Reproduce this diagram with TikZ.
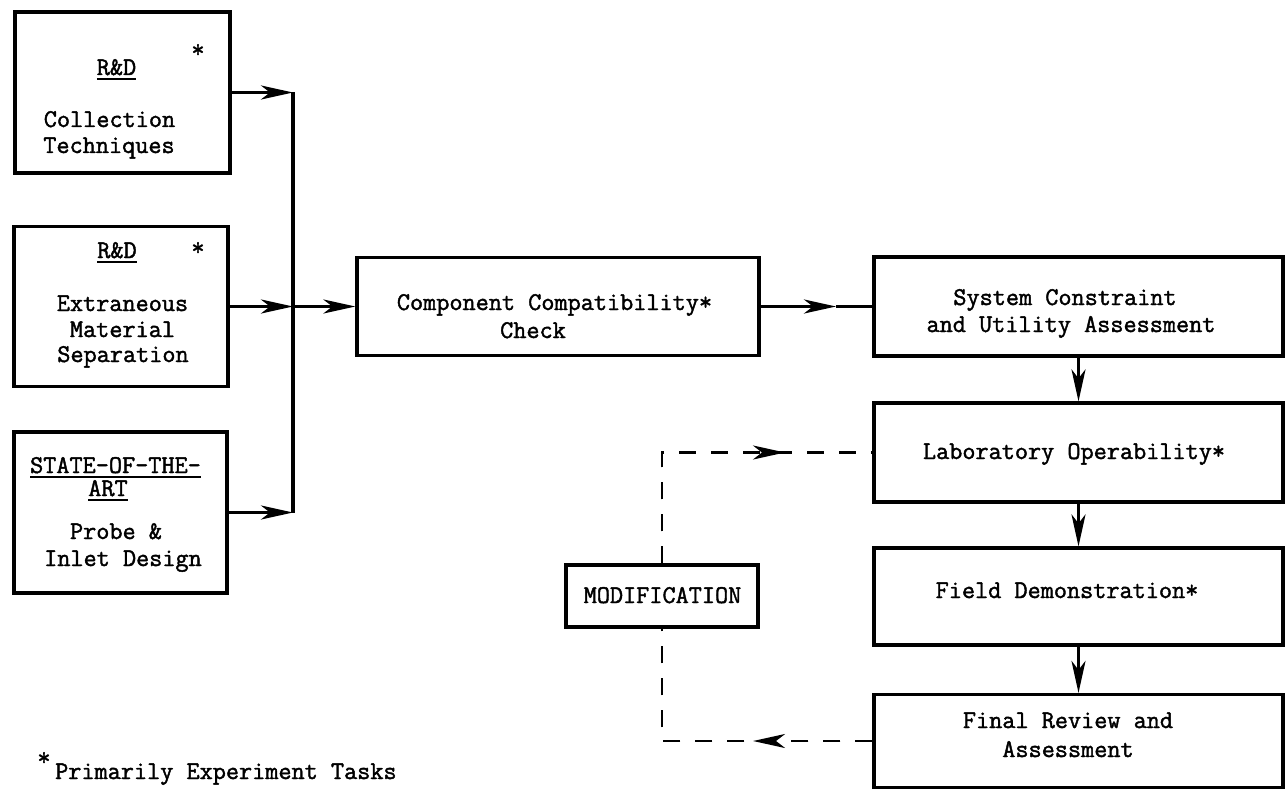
\documentclass[tikz,border=0pt]{standalone}
\usepackage{fontspec}
\usetikzlibrary{arrows.meta}
\newfontfamily\twfont{Latin Modern Mono}[FakeBold=1.6]
\newcommand\myul[1]{\vtop{\hbox{#1}\kern 2.5pt\hrule height 2.4pt}}
\begin{document}
\begin{tikzpicture}[x=1pt,y=-1pt,
  box/.style={draw, line width=3.2pt, inner sep=0, rectangle},
  txt/.style={font=\twfont\fontsize{25.5}{28}\selectfont, inner sep=0, anchor=base},
  startxt/.style={font=\twfont\fontsize{25.5}{28}\selectfont, inner sep=0, anchor=north},
  tip/.style={-{Stealth[length=32pt,width=14pt,inset=9pt]}},
  conn/.style={line width=3.2pt},
  dconn/.style={line width=2.8pt, dash pattern=on 17pt off 15pt}]
\path[use as bounding box] (0,0) rectangle (1287,797);

% left boxes
\node[box, minimum width=215pt, minimum height=161pt] (b1) at (122.5,92.5) {};
\node[box, minimum width=214pt, minimum height=160pt] (b2) at (121,306.5) {};
\node[box, minimum width=213pt, minimum height=161pt] (b3) at (120.5,512.5) {};

% middle / right boxes
\node[box, minimum width=402pt, minimum height=98pt] (comp) at (558,306.5) {};
\node[box, minimum width=409pt, minimum height=99pt] (sys) at (1078.5,306.5) {};
\node[box, minimum width=409pt, minimum height=99pt] (lab) at (1078.5,452.5) {};
\node[box, minimum width=409pt, minimum height=97pt] (field) at (1078.5,596.5) {};
\node[box, minimum width=409pt, minimum height=93pt] (final) at (1078.5,741) {};
\node[box, minimum width=192pt, minimum height=62pt] (mod) at (662,596) {};

% texts box 1
\node[txt] (t1a) at (116.5,75) {\myul{R\&D}};
\node[startxt] (s1) at (198,44) {*};
\node[txt] (t1b) at (109.5,127) {Collection};
\node[txt] (t1c) at (109,153) {Techniques};
% texts box 2
\node[txt] (t2a) at (117,258) {\myul{R\&D}};
\node[startxt] (s2) at (198,242) {*};
\node[txt] (t2b) at (122.5,311) {Extraneous};
\node[txt] (t2c) at (122.5,337) {Material};
\node[txt] (t2d) at (123,362) {Separation};
% texts box 3
\node[txt] (t3a) at (115.5,473) {\myul{STATE-OF-THE-}};
\node[txt] (t3b) at (108,496) {\myul{ART}};
\node[txt] (t3c) at (116,539) {Probe \&};
\node[txt] (t3d) at (123,566) {Inlet Design};
% others
\node[txt] (tc1) at (554.5,310) {Component Compatibility*};
\node[txt] (tc2) at (533,338) {Check};
\node[txt] (ts1) at (1065,305) {System Constraint};
\node[txt] (ts2) at (1071,332) {and Utility Assessment};
\node[txt] (tl) at (1074,459) {Laboratory Operability*};
\node[txt] (tf) at (1067,598) {Field Demonstration*};
\node[txt] (tr1) at (1068,728) {Final Review and};
\node[txt] (tr2) at (1068,757) {Assessment};
\node[txt] (tm) at (662.5,603) {MODIFICATION};
\node[startxt] (sf) at (44,752) {*};
\node[txt, anchor=base west] (tfoot) at (55,779) {Primarily Experiment Tasks};

% bus
\coordinate (bus) at (293,0);
\draw[conn] (b1.east -| bus) -- (b3.east -| bus);
\draw[conn, tip] (b1.east) -- (b1.east -| bus);
\draw[conn, tip] (b2.east) -- (b2.east -| bus);
\draw[conn, tip] (b3.east) -- (b3.east -| bus);
\draw[conn, tip] (b2.east -| bus) -- (comp.west);

% comp -> sys with arrowhead midway
\coordinate (m1x) at (836,0);
\draw[conn, tip] (comp.east) -- (comp.east -| m1x);
\draw[conn] (comp.east -| m1x) -- (sys.west);

% vertical chain
\draw[conn, tip] (sys.south) -- (lab.north);
\draw[conn, tip] (lab.south) -- (field.north);
\draw[conn, tip] (field.south) -- (final.north);

% dashed feedback loop
\coordinate (a1x) at (785,0);
\coordinate (a2x) at (753,0);
\draw[dconn] (final.west) -- (final.west -| mod.south) -- (mod.south);
\draw[dconn, tip] (final.west) -- (final.west -| a2x);
\draw[dconn] (mod.north) -- (mod.north |- lab.west) -- (lab.west);
\draw[dconn, tip] (mod.north) -- (mod.north |- lab.west) -- (lab.west -| a1x);
\end{tikzpicture}
\end{document}
